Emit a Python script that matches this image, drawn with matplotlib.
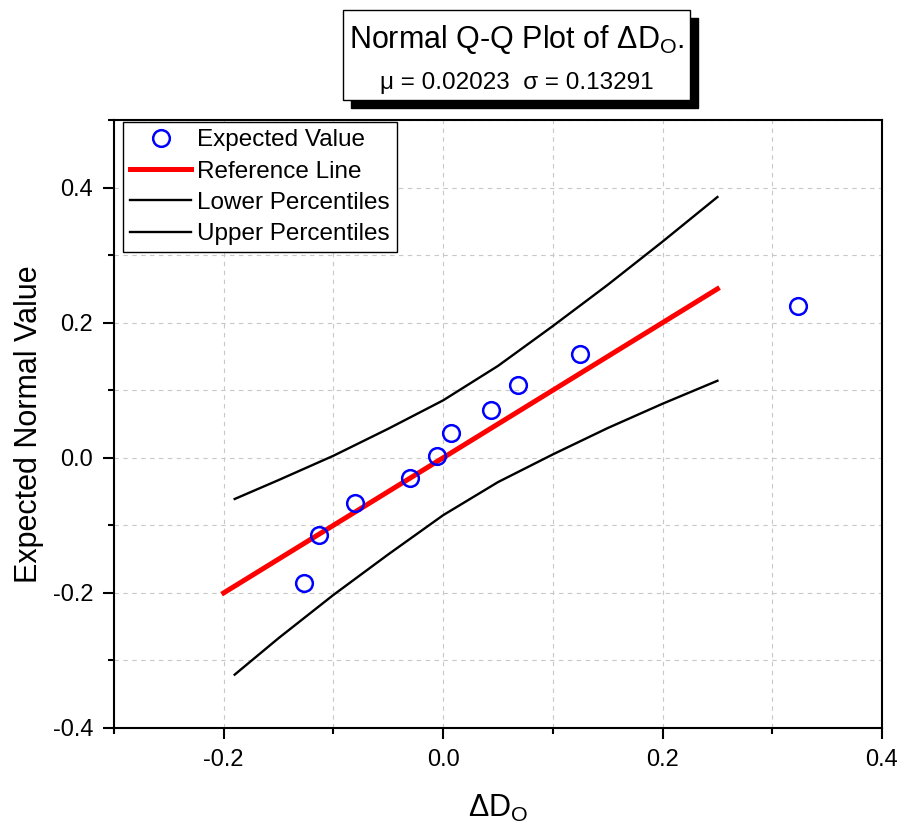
import matplotlib
matplotlib.use("Agg")
import matplotlib.pyplot as plt
from matplotlib.patches import Rectangle
from matplotlib.ticker import MultipleLocator

plt.rcParams['font.family'] = ['Liberation Sans', 'DejaVu Sans']
plt.rcParams['mathtext.fontset'] = 'custom'
plt.rcParams['mathtext.rm'] = 'Liberation Sans'
plt.rcParams['mathtext.it'] = 'Liberation Sans'

# data
data_x = [-0.127, -0.113, -0.080, -0.030, -0.006, 0.0075, 0.044, 0.0685, 0.125, 0.323]
expected_y = [-0.185, -0.114, -0.067, -0.030, 0.003, 0.036, 0.070, 0.107, 0.153, 0.225]

ref_x = [-0.2, 0.25]
ref_y = [-0.2, 0.25]

band_x = [-0.19, -0.15, -0.1, -0.05, 0.0, 0.05, 0.1, 0.15, 0.2, 0.25]
upper = [-0.061, -0.033, 0.003, 0.043, 0.085, 0.136, 0.195, 0.256, 0.32, 0.386]
lower = [-0.321, -0.267, -0.203, -0.143, -0.085, -0.036, 0.005, 0.044, 0.08, 0.114]

mu = 0.02023
sigma = 0.13291

W, H = 902, 825
fig = plt.figure(figsize=(W / 100, H / 100), dpi=100)
ax = fig.add_axes([114 / W, 1 - 728 / H, (882 - 114) / W, (728 - 120) / H])

ax.plot(data_x, expected_y, 'o', ms=12, mfc='none', mec='#0000ff', mew=1.8,
        label='Expected Value', zorder=5)
ax.plot(ref_x, ref_y, color='#ff0000', lw=3.6, label='Reference Line', zorder=4)
ax.plot(band_x, lower, color='black', lw=1.7, label='Lower Percentiles', zorder=3)
ax.plot(band_x, upper, color='black', lw=1.7, label='Upper Percentiles', zorder=3)

ax.set_xlim(-0.3, 0.4)
ax.set_ylim(-0.4, 0.5)
ax.xaxis.set_minor_locator(MultipleLocator(0.1))
ax.yaxis.set_minor_locator(MultipleLocator(0.1))
ax.set_xticks([-0.2, 0.0, 0.2, 0.4])
ax.set_xticklabels(['-0.2', '0.0', '0.2', '0.4'])
ax.set_yticks([-0.4, -0.2, 0.0, 0.2, 0.4])
ax.set_yticklabels(['-0.4', '-0.2', '0.0', '0.2', '0.4'])

ax.grid(True, which='both', ls=(0, (4, 4)), color='#c8c8c8', lw=0.8)
ax.set_axisbelow(True)
ax.tick_params(which='major', direction='out', length=8, width=1.5, labelsize=17, pad=7)
ax.tick_params(which='minor', direction='out', length=4, width=1.5)
for s in ax.spines.values():
    s.set_linewidth(1.5)

ax.set_xlabel(r'$\Delta$D$_\mathrm{O}$', fontsize=22, labelpad=16)
ax.set_ylabel('Expected Normal Value', fontsize=22, labelpad=6)

leg = ax.legend(loc='upper left', bbox_to_anchor=(9 / 768, 1 - 2 / 608), fontsize=17.5,
                frameon=True, fancybox=False, edgecolor='black', framealpha=1,
                borderpad=0.3, labelspacing=0.38, handlelength=2.5,
                handletextpad=0.25, borderaxespad=0)
leg.get_frame().set_linewidth(1.0)

# title box with drop shadow
bx0, bx1, by0, by1 = 343, 690, 10, 100
fig.patches.append(Rectangle(((bx0 + 8) / W, 1 - (by1 + 8) / H), (bx1 - bx0) / W,
                             (by1 - by0) / H, transform=fig.transFigure,
                             facecolor='black', edgecolor='black', zorder=1))
fig.patches.append(Rectangle((bx0 / W, 1 - by1 / H), (bx1 - bx0) / W,
                             (by1 - by0) / H, transform=fig.transFigure,
                             facecolor='white', edgecolor='black', lw=1, zorder=2))
fig.text((bx0 + bx1) / 2 / W, 1 - 40 / H, r'Normal Q-Q Plot of $\Delta$D$_\mathrm{O}$.',
         ha='center', va='center', fontsize=22, zorder=3)
fig.text((bx0 + bx1) / 2 / W, 1 - 83 / H,
         '\u03bc = %.5f  \u03c3 = %.5f' % (mu, sigma),
         ha='center', va='center', fontsize=17.5, zorder=3)

fig.savefig('out.png', dpi=100)
